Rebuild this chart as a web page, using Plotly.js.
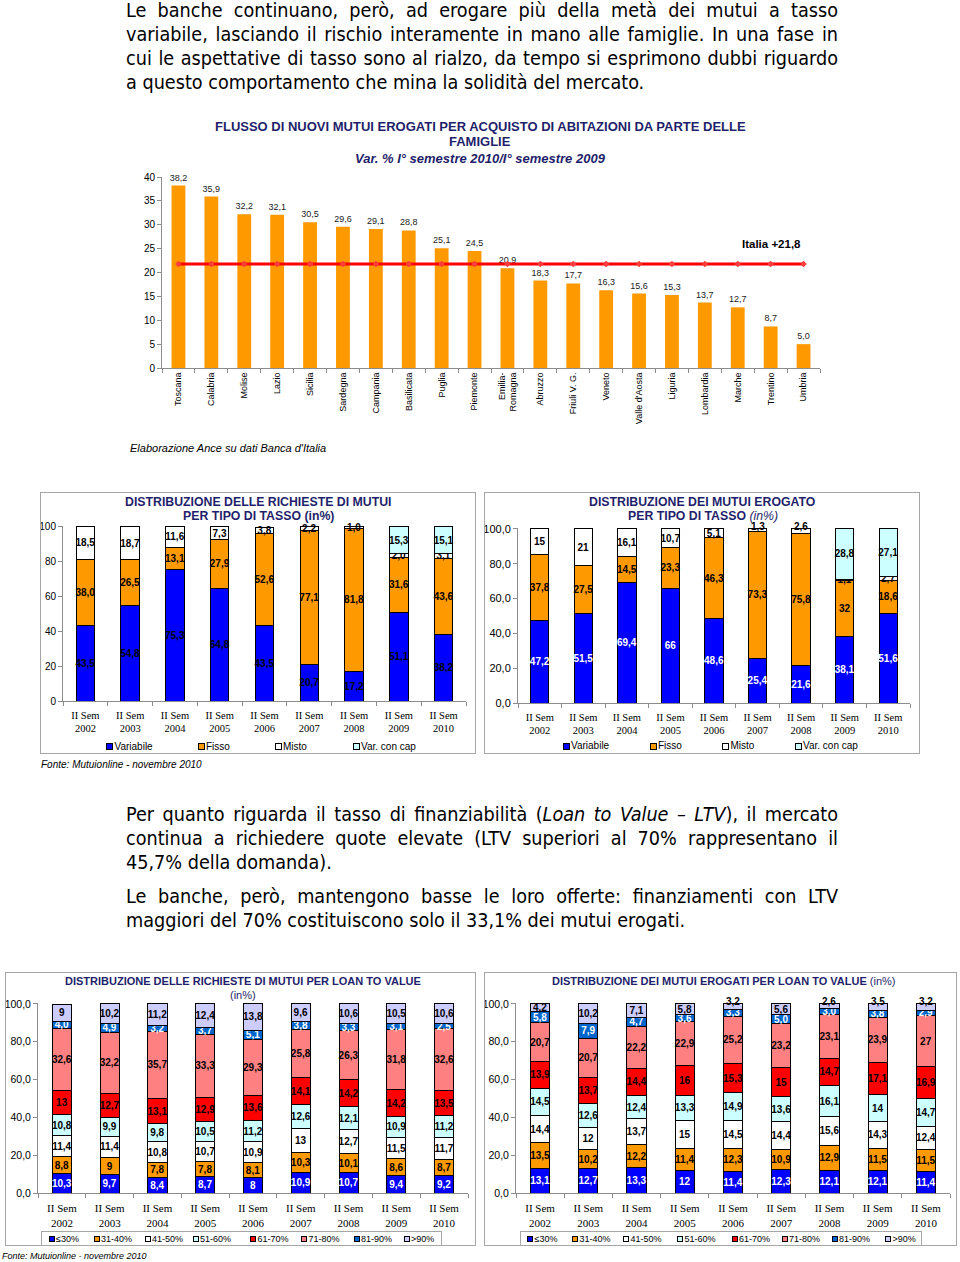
<!DOCTYPE html>
<html lang="it">
<head>
<meta charset="utf-8">
<script src="https://cdn.plot.ly/plotly-3.0.1.min.js"></script>
<style>
html,body{margin:0;padding:0;background:#fff;}
body{position:relative;width:960px;height:1262px;overflow:hidden;font-family:"Liberation Sans",Arial,sans-serif;}
.abs{position:absolute;}
.pline{position:absolute;left:126px;height:24px;line-height:24px;white-space:nowrap;font-family:"DejaVu Sans Condensed","DejaVu Sans",sans-serif;color:#000;}
.box{position:absolute;border:1px solid #A6A6A6;box-sizing:border-box;pointer-events:none;}
.note{position:absolute;font-style:italic;color:#000;white-space:nowrap;line-height:14px;}
.lg{position:absolute;white-space:nowrap;color:#000;line-height:12px;}
.sym{position:absolute;box-sizing:border-box;border:1px solid #000;}
</style>
</head>
<body>
<div id="c0" class="abs" style="left:0;top:105px;width:960px;height:350px"></div>
<div class="note" style="left:130px;top:441px;font-size:11px">Elaborazione Ance su dati Banca d'Italia</div>

<div id="c1" class="abs" style="left:40px;top:492px;width:436px;height:262px"></div>
<div class="box" style="left:40px;top:492px;width:436px;height:262px"></div>
<div id="c2" class="abs" style="left:484px;top:492px;width:436px;height:262px"></div>
<div class="box" style="left:484px;top:492px;width:436px;height:262px"></div>
<div class="note" style="left:41px;top:758px;font-size:10px">Fonte: Mutuionline - novembre 2010</div>

<div id="c3" class="abs" style="left:5px;top:972px;width:471px;height:274px"></div>
<div class="box" style="left:5px;top:972px;width:471px;height:274px"></div>
<div id="c4" class="abs" style="left:484px;top:972px;width:473px;height:274px"></div>
<div class="box" style="left:484px;top:972px;width:473px;height:274px"></div>
<div class="box" style="left:41px;top:1231px;width:401px;height:15px"></div>
<div class="box" style="left:520px;top:1231px;width:402px;height:15px"></div>
<div class="note" style="left:2px;top:1249px;font-size:9px">Fonte: Mutuionline - novembre 2010</div>

<script>
// ---------------- DATA ----------------
// Chart A: flusso nuovi mutui per regione (Var. % I sem 2010 / I sem 2009)
const regions = ['Toscana','Calabria','Molise','Lazio','Sicilia','Sardegna','Campania','Basilicata','Puglia','Piemonte','Emilia-<br>Romagna','Abruzzo','Friuli V. G.','Veneto',"Valle d'Aosta",'Liguria','Lombardia','Marche','Trentino','Umbria'];
const regionVar = [38.2,35.9,32.2,32.1,30.5,29.6,29.1,28.8,25.1,24.5,20.9,18.3,17.7,16.3,15.6,15.3,13.7,12.7,8.7,5.0];
const italiaVar = 21.8;

// Semesters (II Sem)
const semYears = ['2002','2003','2004','2005','2006','2007','2008','2009','2010'];

// Chart B: richieste per tipo di tasso
const tassoNames = ['Variabile','Fisso','Misto','Var. con cap'];
const richVariabile = [43.5,54.8,75.3,64.8,43.5,20.7,17.2,51.1,38.2];
const richFisso     = [38.0,26.5,13.1,27.9,52.6,77.1,81.8,31.6,43.6];
const richMisto     = [18.5,18.7,11.6,7.3,3.8,2.2,1.0,2.0,3.1];
const richCap       = [0,0,0,0,0,0,0,15.3,15.1];

// Chart C: erogato per tipo di tasso
const erogVariabile = [47.2,51.5,69.4,66,48.6,25.4,21.6,38.1,51.6];
const erogFisso     = [37.8,27.5,14.5,23.3,46.3,73.3,75.8,32,18.6];
const erogMisto     = [15,21,16.1,10.7,5.1,1.3,2.6,1.1,2.7];
const erogCap       = [0,0,0,0,0,0,0,28.8,27.1];

// LTV classes
const ltvNames = ['≤30%','31-40%','41-50%','51-60%','61-70%','71-80%','81-90%','>90%'];
// Chart D: richieste per LTV
const rqLe30  = [10.3,9.7,8.4,8.7,8,10.9,10.7,9.4,9.2];
const rq31_40 = [8.8,9,7.8,7.8,8.1,10.3,10.1,8.6,8.7];
const rq41_50 = [11.4,11.4,10.8,10.7,10.9,13,12.7,11.5,11.7];
const rq51_60 = [10.8,9.9,9.8,10.5,11.2,12.6,12.1,10.9,11.2];
const rq61_70 = [13,12.7,13.1,12.9,13.6,14.1,14.2,14.2,13.5];
const rq71_80 = [32.6,32.2,35.7,33.3,29.3,25.8,26.3,31.8,32.6];
const rq81_90 = [4.0,4.9,3.2,3.7,5.1,3.8,3.3,3.1,2.5];
const rqGt90  = [9,10.2,11.2,12.4,13.8,9.6,10.6,10.5,10.6];
// Chart E: erogati per LTV
const erLe30  = [13.1,12.7,13.3,12,11.4,12.3,12.1,12.1,11.4];
const er31_40 = [13.5,10.2,12.2,11.4,12.3,10.9,12.9,11.5,11.5];
const er41_50 = [14.4,12,13.7,15,14.5,14.4,15.6,14.3,12.4];
const er51_60 = [14.5,12.6,12.4,13.3,14.9,13.6,16.1,14,14.7];
const er61_70 = [13.9,13.7,14.4,16,15.3,15,14.7,17.1,16.9];
const er71_80 = [20.7,20.7,22.2,22.9,25.2,23.2,23.1,23.9,27];
const er81_90 = [5.8,7.9,4.7,3.6,3.3,5.0,3.0,3.8,2.9];
const erGt90  = [4.2,10.2,7.1,5.8,3.2,5.6,2.6,3.5,3.2];

// ---------------- STYLE ----------------
const AX = '#8C8C8C';
const TITLE_COL = '#1F1F6B';
const SANS = '"Liberation Sans", Arial, sans-serif';
const SERIF = '"Liberation Serif", "Times New Roman", serif';
const cfg = {displayModeBar:false, staticPlot:true};
const tassoColors = ['#0000FF','#FF9900','#FFFFFF','#CCFFFF'];
const ltvColors = ['#0000FF','#FF9900','#FFFFFF','#CCFFFF','#FF0000','#FF8080','#0066CC','#CCCCFF'];
const ltvText = ['#FFFFFF','#000','#000','#000','#000','#000','#FFFFFF','#000'];

function fmt(v, fixed){
  if(!v) return '';
  return (fixed ? v.toFixed(1) : String(v)).replace('.', ',');
}
const semCats = semYears.map(y => 'II Sem<br>' + y);

// pixel (relative to chart div) -> paper coordinates
function paperX(px, w, m){ return (px - m.l) / (w - m.l - m.r); }
function paperY(py, h, m){ return (h - m.b - py) / (h - m.t - m.b); }
function titleAnns(lines, cx, centers, w, h, m, fs){
  return lines.map((t, i) => ({
    text:t, xref:'paper', yref:'paper', x:paperX(cx, w, m), y:paperY(centers[i], h, m),
    xanchor:'center', yanchor:'middle', showarrow:false,
    font:{family:SANS, size:fs, color:TITLE_COL}
  }));
}

// ---------------- CHART A ----------------
(function(){
  const W = 960, H = 350, M = {l:161.5, r:139.5, t:72, b:87};
  const bars = {
    type:'bar', x:regions, y:regionVar,
    marker:{color:'#FF9900'},
    texttemplate:'%{y:.1f}', textposition:'outside', constraintext:'none', cliponaxis:false,
    textfont:{family:SANS, size:9, color:'#222'}, hoverinfo:'skip'
  };
  const line = {
    type:'scatter', mode:'lines+markers', x:regions, y:regions.map(() => italiaVar),
    line:{color:'#FF0000', width:3}, marker:{symbol:'diamond', size:5, color:'#FF3B3B'},
    hoverinfo:'skip', cliponaxis:false
  };
  const layout = {
    width:W, height:H, margin:M,
    separators:',.', showlegend:false, bargap:0.58,
    paper_bgcolor:'rgba(0,0,0,0)', plot_bgcolor:'rgba(0,0,0,0)',
    xaxis:{type:'category', range:[-0.5, regions.length - 0.5], showline:true, linecolor:AX, ticks:'outside', tickson:'boundaries', ticklen:4, tickcolor:AX,
           tickangle:-90, tickfont:{family:SANS, size:9, color:'#000'}, showgrid:false},
    yaxis:{range:[0,40], dtick:5, showline:true, linecolor:AX, ticks:'outside', ticklen:4, tickcolor:AX,
           showgrid:false, zeroline:false, tickfont:{family:SANS, size:10, color:'#000'}},
    annotations:titleAnns([
        '<b>FLUSSO DI NUOVI MUTUI EROGATI PER ACQUISTO DI ABITAZIONI DA PARTE DELLE</b>',
        '<b>FAMIGLIE</b>',
        '<b><i>Var. % I° semestre 2010/I° semestre 2009</i></b>'],
        480, [126 - 105, 142 - 105, 158 - 105], W, H, M, 13).concat([
      {text:'<b>Italia +' + fmt(italiaVar, true) + '</b>', xref:'paper', yref:'y', x:paperX(772, W, M), y:26,
       xanchor:'center', yanchor:'middle', showarrow:false, font:{family:SANS, size:11.5, color:'#000'}}
    ])
  };
  Plotly.newPlot('c0', [bars, line], layout, cfg);
})();

// ---------------- STACKED CHARTS ----------------
const YMAX = 100.5; // slight headroom so rounded totals (e.g. 100,1) stay inside the axis range
function stackChart(id, series, opt){
  const n = semCats.length;
  const m = Object.assign({}, opt.m);
  const plotH100 = opt.h - m.t - m.b;
  m.t = m.t - plotH100 * (YMAX - 100) / 100;
  const totals = semCats.map((c, i) => series.reduce((a, s) => a + s.values[i], 0));
  const topIdx = semCats.map((c, i) => series.map((s, k) => s.values[i] ? k : -1).reduce((a, b) => Math.max(a, b), -1));
  const small = semCats.map((c, i) => !!opt.smallTopOutside && series[topIdx[i]].values[i] < 4);
  const traces = series.map((s, k) => ({
    type:'bar', name:s.name, x:semCats, y:s.values,
    text:s.values.map((v, i) => (small[i] && topIdx[i] === k) ? '' : fmt(v, s.fixed)),
    textposition:'inside', insidetextanchor:'middle', textangle:0, constraintext:'none',
    textfont:{family:SANS, size:10, color:s.textColor, weight:'bold'},
    marker:{color:s.color, line:{color:'#000', width:1}},
    hoverinfo:'skip', cliponaxis:false
  }));
  const anns = titleAnns(opt.titleLines, opt.tcx, opt.tcy, opt.w, opt.h, m, opt.tfs);
  semCats.forEach((c, i) => {
    if(!small[i]) return;
    const s = series[topIdx[i]];
    anns.push({text:'<b>' + fmt(s.values[i], s.fixed) + '</b>', x:c, y:totals[i], xref:'x', yref:'y',
               xanchor:'center', yanchor:'bottom', yshift:-5, showarrow:false,
               font:{family:SANS, size:10, color:'#000'}});
  });
  const layout = {
    width:opt.w, height:opt.h, margin:m, barmode:'stack', bargap:opt.bargap,
    separators:',.', showlegend:false,
    paper_bgcolor:'rgba(0,0,0,0)', plot_bgcolor:'rgba(0,0,0,0)',
    uniformtext:{mode:'show', minsize:10},
    annotations:anns,
    xaxis:{type:'category', range:[-0.5, n - 0.5], showline:true, linecolor:AX, ticks:'outside', tickson:'boundaries', ticklen:4, tickcolor:AX,
           ticklabelstandoff:opt.xso, tickfont:{family:SERIF, size:opt.xfs, color:'#000'}, showgrid:false},
    yaxis:{range:[0,YMAX], tickvals:[0,20,40,60,80,100], tickformat:opt.yfmt, showline:true, linecolor:AX, ticks:'outside', ticklen:4, tickcolor:AX,
           showgrid:false, zeroline:false, tickfont:{family:SANS, size:opt.yfs, color:'#000'}}
  };
  Plotly.newPlot(id, traces, layout, cfg);
}

function htmlLegend(names, colors, xs, yc, fs, sym){
  names.forEach((n, i) => {
    const s = document.createElement('div');
    s.className = 'sym';
    s.style.cssText = `left:${xs[i]}px;top:${yc - sym/2}px;width:${sym}px;height:${sym}px;background:${colors[i]}`;
    document.body.appendChild(s);
    const t = document.createElement('div');
    t.className = 'lg';
    t.textContent = n;
    t.style.cssText = `left:${xs[i] + sym + 1.5}px;top:${yc - 6}px;font-size:${fs}px`;
    document.body.appendChild(t);
  });
}

// Chart B
stackChart('c1', [
  {name:tassoNames[0], values:richVariabile, color:tassoColors[0], textColor:'#000', fixed:true},
  {name:tassoNames[1], values:richFisso,     color:tassoColors[1], textColor:'#000', fixed:true},
  {name:tassoNames[2], values:richMisto,     color:tassoColors[2], textColor:'#000', fixed:true},
  {name:tassoNames[3], values:richCap,       color:tassoColors[3], textColor:'#000', fixed:true}
], {w:436, h:262, m:{l:22.6, r:9.5, t:35.3, b:53}, bargap:0.59,
    titleLines:['<b>DISTRIBUZIONE DELLE RICHIESTE DI MUTUI</b>', '<b>PER TIPO DI TASSO (in%)</b>'],
    tfs:12.3, tcx:218.5, tcy:[502 - 492, 516.5 - 492],
    xfs:10.5, xso:4, yfs:10, yfmt:'d'});
htmlLegend(tassoNames, tassoColors, [106, 197.5, 274.5, 352.5], 746.5, 10, 7);

// Chart C
stackChart('c2', [
  {name:tassoNames[0], values:erogVariabile, color:tassoColors[0], textColor:'#FFFFFF'},
  {name:tassoNames[1], values:erogFisso,     color:tassoColors[1], textColor:'#000'},
  {name:tassoNames[2], values:erogMisto,     color:tassoColors[2], textColor:'#000'},
  {name:tassoNames[3], values:erogCap,       color:tassoColors[3], textColor:'#000'}
], {w:436, h:262, m:{l:34.25, r:10.25, t:37.3, b:50.7}, bargap:0.58, smallTopOutside:true,
    titleLines:['<b>DISTRIBUZIONE DEI MUTUI EROGATO</b>', '<b>PER TIPO DI TASSO</b> <i>(in%)</i>'],
    tfs:12.3, tcx:219, tcy:[502 - 492, 516 - 492],
    xfs:10.5, xso:4, yfs:11, yfmt:'.1f'});
htmlLegend(tassoNames, tassoColors, [562.5, 649.5, 722, 794.5], 746, 10, 7);

// Chart D
const rqSeries = [rqLe30, rq31_40, rq41_50, rq51_60, rq61_70, rq71_80, rq81_90, rqGt90];
stackChart('c3', rqSeries.map((v, k) => ({name:ltvNames[k], values:v, color:ltvColors[k], textColor:ltvText[k], fixed:k === 6})),
  {w:471, h:274, m:{l:32.5, r:7.6, t:32.3, b:52.7}, bargap:0.6,
   titleLines:['<b>DISTRIBUZIONE DELLE RICHIESTE DI MUTUI PER LOAN TO VALUE</b>', '(in%)'],
   tfs:11, tcx:238, tcy:[981 - 972, 995 - 972],
   xfs:11, xso:5, yfs:10.5, yfmt:'.1f'});
htmlLegend(ltvNames, ltvColors, [48.5, 93.5, 144.5, 192.5, 250, 301, 353.5, 403.5], 1238.5, 9, 6);

// Chart E
const erSeries = [erLe30, er31_40, er41_50, er51_60, er61_70, er71_80, er81_90, erGt90];
stackChart('c4', erSeries.map((v, k) => ({name:ltvNames[k], values:v, color:ltvColors[k], textColor:ltvText[k], fixed:k === 6})),
  {w:473, h:274, m:{l:32.1, r:7.4, t:32.3, b:52.7}, bargap:0.6, smallTopOutside:true,
   titleLines:['<b>DISTRIBUZIONE DEI MUTUI EROGATI PER LOAN TO VALUE</b> (in%)'],
   tfs:11, tcx:239, tcy:[981 - 972],
   xfs:11, xso:5, yfs:10.5, yfmt:'.1f'});
htmlLegend(ltvNames, ltvColors, [527, 572, 623, 677, 731.5, 781.5, 831.5, 885], 1238.5, 9, 6);

// ---------------- TEXT ----------------
const textLines = [
  {y:11,  html:'Le banche continuano, però, ad erogare più della metà dei mutui a tasso', j:true},
  {y:35,  html:'variabile, lasciando il rischio interamente in mano alle famiglie. In una fase in', j:true},
  {y:59,  html:'cui le aspettative di tasso sono al rialzo, da tempo si esprimono dubbi riguardo', j:true},
  {y:83,  html:'a questo comportamento che mina la solidità del mercato.', j:false, w:514},
  {y:815, html:'Per quanto riguarda il tasso di finanziabilità (<i>Loan to Value – LTV</i>), il mercato', j:true},
  {y:839, html:'continua a richiedere quote elevate (LTV superiori al 70% rappresentano il', j:true},
  {y:863, html:'45,7% della domanda).', j:false, w:208},
  {y:897, html:'Le banche, però, mantengono basse le loro offerte: finanziamenti con LTV', j:true},
  {y:921, html:'maggiori del 70% costituiscono solo il 33,1% dei mutui erogati.', j:false, w:562}
];
(function(){
  const PW = 712;
  const els = textLines.map(l => {
    const d = document.createElement('div');
    d.className = 'pline';
    d.style.top = (l.y - 12) + 'px';
    d.style.fontSize = '20px';
    d.innerHTML = l.html;
    document.body.appendChild(d);
    return d;
  });
  let sumRef = 0, sumNat = 0, maxRatio = 0;
  els.forEach((d, i) => {
    const w = d.getBoundingClientRect().width;
    if(textLines[i].w){ sumRef += textLines[i].w; sumNat += w; }
    if(textLines[i].j) maxRatio = Math.max(maxRatio, w / PW);
  });
  let fs = 20 * sumRef / sumNat;
  fs = Math.min(fs, 20 / maxRatio * 0.995);
  els.forEach((d, i) => {
    d.style.fontSize = fs + 'px';
    if(textLines[i].j){
      const w = d.getBoundingClientRect().width;
      const n = (d.textContent.match(/ /g) || []).length;
      d.style.wordSpacing = ((PW - w) / n) + 'px';
    }
  });
})();
</script>
</body>
</html>
